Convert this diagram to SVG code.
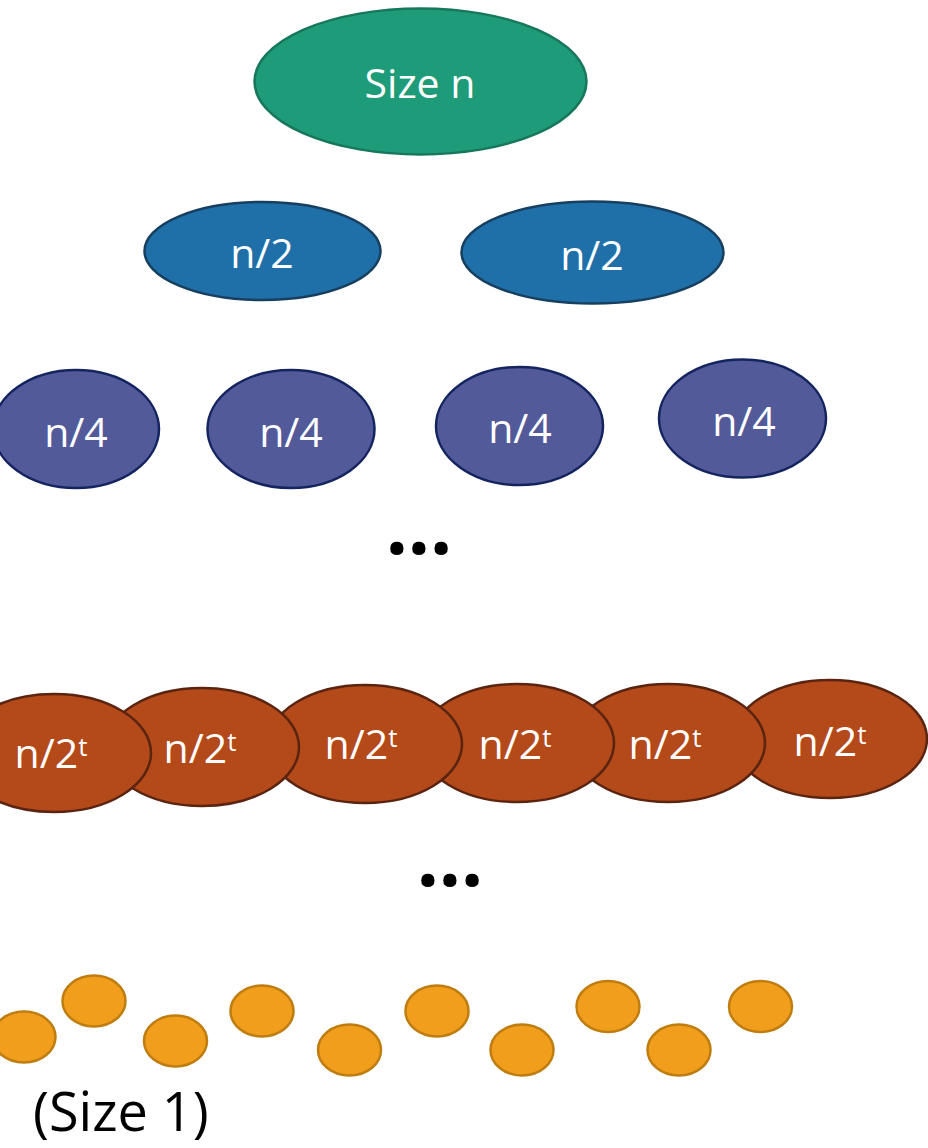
<svg xmlns="http://www.w3.org/2000/svg" width="928" height="1148" viewBox="0 0 928 1148">
<style>
  .lbl { font-family: "Open Sans", "Noto Sans", sans-serif; fill: #ffffff; text-anchor: middle; }
  .g { fill: #1E9B78; stroke: #17775C; stroke-width: 2.5; }
  .b { fill: #1F6FA8; stroke: #173F60; stroke-width: 2.5; }
  .p { fill: #535A99; stroke: #14245F; stroke-width: 2.5; }
  .r { fill: #B4491A; stroke: #5A2410; stroke-width: 2.5; }
  .o { fill: #F09E1C; stroke: #BF7D10; stroke-width: 2.5; }
  .dots { font-family: "Open Sans", "Noto Sans", sans-serif; font-weight: bold; font-size: 78px; fill: #000000; text-anchor: middle; }
</style>
<rect width="928" height="1148" fill="#ffffff"/>
<g id="connectors"></g>

<g id="root">
  <ellipse class="g" cx="420.5" cy="81.5" rx="166" ry="73"/>
  <text class="lbl" x="420" y="98" font-size="41">Size n</text>
</g>

<g id="half1">
  <ellipse class="b" cx="262.5" cy="251" rx="118" ry="49"/>
  <text class="lbl" x="262" y="268" font-size="41">n/2</text>
</g>
<g id="half2">
  <ellipse class="b" cx="592.5" cy="252.5" rx="131" ry="51"/>
  <text class="lbl" x="592" y="270" font-size="41">n/2</text>
</g>

<g id="quarter1">
  <ellipse class="p" cx="76" cy="429" rx="83" ry="59"/>
  <text class="lbl" x="76" y="447" font-size="41">n/4</text>
</g>
<g id="quarter2">
  <ellipse class="p" cx="291" cy="429" rx="83.5" ry="59"/>
  <text class="lbl" x="291" y="447" font-size="41">n/4</text>
</g>
<g id="quarter3">
  <ellipse class="p" cx="519.5" cy="426" rx="83.5" ry="59"/>
  <text class="lbl" x="520" y="443" font-size="41">n/4</text>
</g>
<g id="quarter4">
  <ellipse class="p" cx="742.5" cy="418.5" rx="83.5" ry="59"/>
  <text class="lbl" x="744" y="436" font-size="41">n/4</text>
</g>

<g id="dots1">
  <text class="dots" x="419" y="554">...</text>
</g>

<g id="level-t6">
  <ellipse class="r" cx="830" cy="739" rx="97" ry="59"/>
  <text class="lbl" x="830" y="756" font-size="41">n/2<tspan font-size="26" dy="-12">t</tspan></text>
</g>
<g id="level-t5">
  <ellipse class="r" cx="668" cy="743" rx="97" ry="59"/>
  <text class="lbl" x="665" y="759" font-size="41">n/2<tspan font-size="26" dy="-12">t</tspan></text>
</g>
<g id="level-t4">
  <ellipse class="r" cx="517" cy="743" rx="97" ry="59"/>
  <text class="lbl" x="515" y="759" font-size="41">n/2<tspan font-size="26" dy="-12">t</tspan></text>
</g>
<g id="level-t3">
  <ellipse class="r" cx="365" cy="744" rx="97" ry="59"/>
  <text class="lbl" x="361" y="759" font-size="41">n/2<tspan font-size="26" dy="-12">t</tspan></text>
</g>
<g id="level-t2">
  <ellipse class="r" cx="202" cy="747" rx="97" ry="59"/>
  <text class="lbl" x="200" y="763" font-size="41">n/2<tspan font-size="26" dy="-12">t</tspan></text>
</g>
<g id="level-t1">
  <ellipse class="r" cx="54" cy="753" rx="97" ry="59"/>
  <text class="lbl" x="51" y="768" font-size="41">n/2<tspan font-size="26" dy="-12">t</tspan></text>
</g>

<g id="dots2">
  <text class="dots" x="450" y="886">...</text>
</g>

<g id="leaves">
  <ellipse class="o" cx="24" cy="1037" rx="31.5" ry="25.5"/>
  <ellipse class="o" cx="94" cy="1001" rx="31.5" ry="25.5"/>
  <ellipse class="o" cx="175.5" cy="1041" rx="31.5" ry="25.5"/>
  <ellipse class="o" cx="262" cy="1011" rx="31.5" ry="25.5"/>
  <ellipse class="o" cx="349.5" cy="1050" rx="31.5" ry="25.5"/>
  <ellipse class="o" cx="437" cy="1011" rx="31.5" ry="25.5"/>
  <ellipse class="o" cx="522" cy="1050" rx="31.5" ry="25.5"/>
  <ellipse class="o" cx="608" cy="1006.5" rx="31.5" ry="25.5"/>
  <ellipse class="o" cx="679" cy="1050" rx="31.5" ry="25.5"/>
  <ellipse class="o" cx="760.5" cy="1006.5" rx="31.5" ry="25.5"/>
</g>

<g id="size1-label">
  <text x="33" y="1131" font-family="'Open Sans', 'Noto Sans', sans-serif" font-size="54" fill="#000000">(Size 1)</text>
</g>
</svg>
